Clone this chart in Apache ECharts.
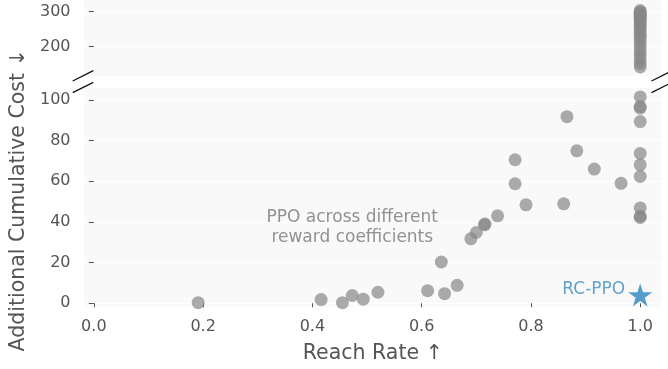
<!DOCTYPE html>
<html>
<head>
<meta charset="utf-8">
<script src="https://cdn.jsdelivr.net/npm/echarts@6/dist/echarts.min.js"></script>
<style>
  html, body { margin: 0; padding: 0; background: #fff; }
  #chart { width: 668px; height: 369px; }
</style>
</head>
<body>
<div id="chart"></div>
<script>
// PPO runs, one per reward coefficient: reach rate vs. additional cumulative cost
const ppoReach = [
  0.191, 0.416, 0.455, 0.473, 0.493, 0.520, 0.611, 0.642, 0.665, 0.636,
  0.690, 0.700, 0.715, 0.716, 0.739, 0.771, 0.771, 0.791, 0.860, 0.866,
  0.884, 0.916, 0.965,
  1.0, 1.0, 1.0, 1.0, 1.0, 1.0, 1.0, 1.0, 1.0, 1.0,
  1.0, 1.0, 1.0, 1.0, 1.0, 1.0, 1.0, 1.0, 1.0, 1.0, 1.0, 1.0,
  1.0, 1.0, 1.0, 1.0, 1.0, 1.0, 1.0, 1.0, 1.0, 1.0
];
const ppoCost = [
  0.3, 1.8, 0.3, 3.8, 2.0, 5.4, 6.2, 4.7, 8.8, 20.3,
  31.7, 34.8, 38.6, 39.0, 43.0, 70.6, 58.8, 48.4, 48.9, 91.8,
  75.0, 66.0, 59.0,
  42.2, 42.8, 46.9, 62.4, 68.1, 73.7, 89.4, 96.0, 96.8, 101.5,
  303, 299, 295, 291, 287, 283, 279, 274, 268, 262, 255, 248,
  240, 232, 224, 212, 200, 188, 176, 165, 152, 142, 135
];

// RC-PPO result
const rcReach = [1.0];
const rcCost = [4.1];

// Axis ticks
const xTicks = [0.0, 0.2, 0.4, 0.6, 0.8, 1.0];
const yTicksLow = [0, 20, 40, 60, 80, 100];
const yTicksHigh = [200, 300];

// Broken y axis: costs above this go to the upper panel
const breakAt = 110;

const FONT = 'DejaVu Sans';
const TEXT = '#555';

// Five-pointed star marker
const STAR = 'path://M0,-100L22.45,-30.9L95.1,-30.9L36.3,11.8L58.8,80.9L0,38.2L-58.8,80.9L-36.3,11.8L-95.1,-30.9L-22.45,-30.9Z';

// Panel geometry (pixels)
const L = 84, R = 661.5;
const topPanel = { top: 0, bottom: 75.7 };
const lowPanel = { top: 88, bottom: 306.7 };

const lowPts = [], highPts = [];
ppoReach.forEach((x, i) => {
  (ppoCost[i] > breakAt ? highPts : lowPts).push([x, ppoCost[i]]);
});

const xRange = { min: -0.018, max: 1.039 };

const yAxisCommon = {
  type: 'value',
  offset: 1.5,
  axisLine: { show: false },
  axisTick: { show: true, length: 5, lineStyle: { color: TEXT, width: 1 } },
  axisLabel: { color: TEXT, fontFamily: FONT, fontSize: 16, margin: 12 },
  splitLine: { show: true, lineStyle: { color: '#ffffff', width: 1.3 } }
};

const dotStyle = { color: '#888888', opacity: 0.7 };

const chart = echarts.init(document.getElementById('chart'), null, { renderer: 'canvas' });

const breakLine = (x1, y1, x2, y2) => ({
  type: 'line', silent: true, z: 100,
  shape: { x1, y1, x2, y2 },
  style: { stroke: '#111', lineWidth: 1.3 }
});

chart.setOption({
  animation: false,
  backgroundColor: '#ffffff',
  grid: [
    { left: L, width: R - L, top: topPanel.top, height: topPanel.bottom - topPanel.top,
      show: true, backgroundColor: '#f9f9f9', borderWidth: 0 },
    { left: L, width: R - L, top: lowPanel.top, height: lowPanel.bottom - lowPanel.top,
      show: true, backgroundColor: '#f9f9f9', borderWidth: 0 }
  ],
  xAxis: [
    { gridIndex: 0, type: 'value', ...xRange, show: false },
    { gridIndex: 1, type: 'value', ...xRange,
      offset: 3,
      axisLine: { show: false },
      axisTick: { show: true, length: 4, customValues: xTicks, lineStyle: { color: TEXT, width: 1 } },
      axisLabel: { customValues: xTicks, color: TEXT, fontFamily: FONT, fontSize: 16, margin: 9,
                   formatter: v => v.toFixed(1) },
      splitLine: { show: false },
      name: 'Reach Rate \u2191', nameLocation: 'middle', nameGap: 33,
      nameTextStyle: { color: TEXT, fontFamily: FONT, fontSize: 20.5 } }
  ],
  yAxis: [
    { ...yAxisCommon, gridIndex: 0, min: 117, max: 333,
      axisTick: { ...yAxisCommon.axisTick, customValues: yTicksHigh },
      axisLabel: { ...yAxisCommon.axisLabel, customValues: yTicksHigh } },
    { ...yAxisCommon, gridIndex: 1, min: -1.7, max: 105.9,
      axisTick: { ...yAxisCommon.axisTick, customValues: yTicksLow },
      axisLabel: { ...yAxisCommon.axisLabel, customValues: yTicksLow },
      name: 'Additional Cumulative Cost \u2193', nameLocation: 'middle', nameGap: 48,
      nameTextStyle: { color: TEXT, fontFamily: FONT, fontSize: 20.5, padding: [0, 6, 0, 0] } }
  ],
  series: [
    { type: 'scatter', name: 'PPO', xAxisIndex: 0, yAxisIndex: 0,
      data: highPts, symbolSize: 13, itemStyle: dotStyle },
    { type: 'scatter', name: 'PPO', xAxisIndex: 1, yAxisIndex: 1,
      data: lowPts, symbolSize: 13, itemStyle: dotStyle },
    { type: 'scatter', name: 'PPO label', xAxisIndex: 1, yAxisIndex: 1,
      data: [[0.473, 37]], symbolSize: 0, silent: true,
      label: { show: true, position: 'inside',
               formatter: 'PPO across different\nreward coefficients',
               color: '#777', fontFamily: FONT, fontSize: 17, lineHeight: 20, align: 'center' } },
    { type: 'scatter', name: 'RC-PPO', xAxisIndex: 1, yAxisIndex: 1, z: 10,
      data: rcReach.map((x, i) => [x, rcCost[i]]),
      symbol: STAR, symbolSize: [24, 23], itemStyle: { color: '#2e86c1' },
      label: { show: true, position: 'left', distance: 3, offset: [0, -5],
               formatter: 'RC-PPO', color: '#3a8bc2', fontFamily: FONT, fontSize: 17 } }
  ],
  graphic: [
    breakLine(L - 11.3, topPanel.bottom + 5.3, L + 9.3, topPanel.bottom - 5),
    breakLine(L - 11.3, lowPanel.top + 4.7, L + 9.3, lowPanel.top - 5.7),
    breakLine(R - 10, topPanel.bottom + 5.3, R + 10.6, topPanel.bottom - 5),
    breakLine(R - 10, lowPanel.top + 4.7, R + 10.6, lowPanel.top - 5.7)
  ]
});
</script>
</body>
</html>
